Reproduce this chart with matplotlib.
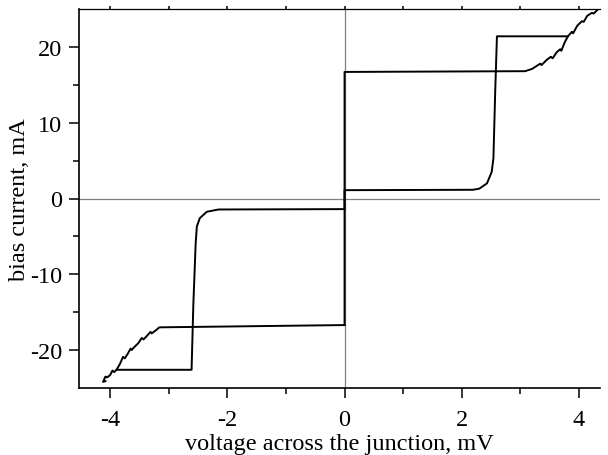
import numpy as np
import matplotlib
matplotlib.use('Agg')
import matplotlib.pyplot as plt

plt.rcParams['font.family'] = ['Liberation Serif', 'DejaVu Serif']
plt.rcParams['axes.unicode_minus'] = False

# positive branch: supercurrent, switching line and gap ramp (mV, mA)
v_pos_up = [0, 0, 3.08, 3.20, 3.30, 3.34, 3.36, 3.45, 3.52, 3.55, 3.62, 3.68, 3.70,
            3.75, 3.81, 3.88, 3.90, 3.97, 4.05, 4.08, 4.14, 4.22, 4.25, 4.33, 4.40]
i_pos_up = [-1.4, 16.7, 16.8, 17.1, 17.6, 17.8, 17.6, 18.3, 18.7, 18.5, 19.3, 19.7, 19.5,
            20.5, 21.4, 22.0, 21.8, 22.8, 23.4, 23.3, 24.1, 24.5, 24.4, 25.0, 25.5]
# positive return branch
v_pos_ret = [3.81, 2.60, 2.57, 2.54, 2.51, 2.43, 2.30, 2.19, 0, 0]
i_pos_ret = [21.4, 21.4, 14.0, 5.3, 3.5, 2.0, 1.3, 1.15, 1.1, -16.7]
# negative branch
v_neg_up = [0, -3.16, -3.22, -3.29, -3.31, -3.38, -3.43, -3.46, -3.52, -3.60, -3.63,
            -3.65, -3.70, -3.75, -3.78, -3.83, -3.89, -3.93, -3.96, -4.00, -4.05,
            -4.08, -4.12, -4.08]
i_neg_up = [-16.7, -17.0, -17.4, -17.8, -17.6, -18.2, -18.6, -18.4, -19.1, -19.7, -20.0,
            -19.8, -20.5, -21.1, -20.9, -21.8, -22.6, -22.9, -22.7, -23.3, -23.6,
            -23.5, -24.2, -24.1]
# negative return branch
v_neg_ret = [-3.89, -2.61, -2.58, -2.54, -2.52, -2.47, -2.35, -2.15, 0]
i_neg_ret = [-22.6, -22.6, -14.0, -5.9, -3.7, -2.6, -1.75, -1.45, -1.4]

fig = plt.figure(figsize=(6.08, 4.56), dpi=100)
ax = fig.add_axes([0.130, 0.147, 0.857, 0.831])

ax.axhline(0, color='#808080', lw=0.9, zorder=1)
ax.axvline(0, color='#808080', lw=0.9, zorder=1)

for v, i in [(v_pos_up, i_pos_up), (v_pos_ret, i_pos_ret),
             (v_neg_up, i_neg_up), (v_neg_ret, i_neg_ret)]:
    ax.plot(v, i, color='black', lw=1.4, solid_joinstyle='round', zorder=3)

ax.set_xlim(-4.53, 4.36)
ax.set_ylim(-25, 25)
ax.set_xticks([-4, -2, 0, 2, 4])
ax.set_xticks([-3, -1, 1, 3], minor=True)
ax.set_yticks([-20, -10, 0, 10, 20])
ax.set_yticks([-15, -5, 5, 15], minor=True)

ax.spines['right'].set_visible(False)
for s in ['left', 'bottom']:
    ax.spines[s].set_linewidth(1.2)
ax.spines['top'].set_linewidth(0.9)

ax.tick_params(which='major', direction='out', length=7.5, width=1.1,
               labelsize=17.5, pad=4.5)
ax.tick_params(which='minor', direction='out', length=4, width=1.1)
ax.tick_params(axis='x', which='major', pad=8)
ax.tick_params(axis='x', which='both', top=True, labeltop=False)

ax.set_xlabel('voltage across the junction, mV', fontsize=17.5, labelpad=1.5)
ax.set_ylabel('bias current, mA', fontsize=17.5, labelpad=0)

# make top ticks small
for t in ax.xaxis.get_major_ticks() + ax.xaxis.get_minor_ticks():
    t.tick2line.set_markersize(2.5)

fig.savefig('out.png', dpi=100)
